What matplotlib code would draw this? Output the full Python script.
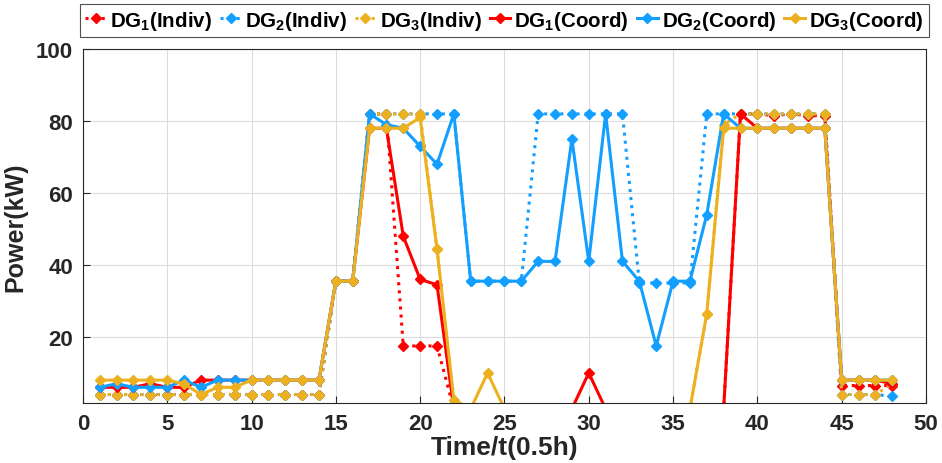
import numpy as np
import matplotlib
matplotlib.use("Agg")
import matplotlib.pyplot as plt

plt.rcParams["font.family"] = ["Liberation Sans", "DejaVu Sans"]
plt.rcParams["font.weight"] = "bold"
plt.rcParams["mathtext.fontset"] = "custom"
plt.rcParams["mathtext.bf"] = "Liberation Sans:bold"
plt.rcParams["mathtext.rm"] = "Liberation Sans:bold"
plt.rcParams["mathtext.default"] = "bf"

# time steps (0.5h each)
t = np.arange(1, 49)

dg1_indiv = ([4] * 14 + [35.5, 35.5] + [82, 82, 17.5, 17.5, 17.5, 0] + [0] * 16
             + [82, 82, 81.5, 82, 81.5, 81.5] + [6.5] * 4)
dg2_indiv = ([4] * 14 + [35.5, 35.5] + [82] * 6 + [35.5] * 4 + [82] * 6
             + [35] * 4 + [82] * 8 + [4, 4, 4, 3.5])
dg3_indiv = ([4] * 14 + [35.5, 35.5] + [82] * 4 + [44.5, 0] + [0] * 14
             + [26.5, 79] + [82] * 6 + [4, 4, 4, 7])

dg1_coord = ([6, 6, 6, 7, 6, 6, 8, 8, 8, 8, 8, 8, 8, 8] + [35.5, 35.5]
             + [78, 78, 48, 36, 34.5, 0] + [0] * 7 + [10] + [0] * 8
             + [82] + [78] * 5 + [8, 8, 8, 7])
dg2_coord = ([6, 7, 6, 6, 6, 8, 6, 8, 8, 8, 8, 8, 8, 8] + [35.5, 35.5]
             + [82, 79, 78, 73, 68, 82] + [35.5] * 4
             + [41, 41, 75, 41, 82, 41, 35.5, 17.5, 35.5, 35.5, 54, 82]
             + [78] * 6 + [8] * 4)
dg3_coord = ([8, 8, 8, 8, 8, 7, 4, 6, 6, 8, 8, 8, 8, 8] + [35.5, 35.5]
             + [78, 78, 78, 81, 44.5, 2.5, 0, 10, 0] + [0] * 11
             + [26.5, 78] + [78] * 6 + [8] * 4)

red = "#FF0000"
blue = "#129FFF"
yellow = "#EDB120"
dark = "#262626"

fig = plt.figure(figsize=(9.42, 4.64), dpi=100)
ax = fig.add_axes([0.088, 0.129, 0.895, 0.763])

series = [
    (dg1_indiv, red, ":", r"DG$_1$(Indiv)"),
    (dg2_indiv, blue, ":", r"DG$_2$(Indiv)"),
    (dg3_indiv, yellow, ":", r"DG$_3$(Indiv)"),
    (dg1_coord, red, "-", r"DG$_1$(Coord)"),
    (dg2_coord, blue, "-", r"DG$_2$(Coord)"),
    (dg3_coord, yellow, "-", r"DG$_3$(Coord)"),
]
for vals, c, ls, lab in series:
    ax.plot(t, vals, color=c, linestyle=ls, linewidth=2.2, marker="D",
            markersize=4.8, label=lab)

ax.set_xlim(0, 50)
ax.set_ylim(1.6, 100)
ax.set_xticks(np.arange(0, 51, 5))
ax.set_yticks(np.arange(20, 101, 20))
ax.grid(True, color="#dcdcdc", linewidth=0.8)
ax.set_axisbelow(True)
ax.tick_params(direction="in", labelsize=16, length=5, width=0.8, pad=7,
               colors=dark, labelcolor=dark)
for lab in ax.get_xticklabels() + ax.get_yticklabels():
    lab.set_fontweight("bold")
for s in ax.spines.values():
    s.set_color(dark)
    s.set_linewidth(0.8)
ax.set_xlabel("Time/t(0.5h)", fontsize=19, fontweight="bold", color=dark, labelpad=1)
ax.set_ylabel("Power(kW)", fontsize=18, fontweight="bold", color=dark, labelpad=6)

leg = ax.legend(loc="lower center", bbox_to_anchor=(0.5, 1.0), ncol=6,
                frameon=True, fancybox=False, handlelength=1.0, handletextpad=0.2,
                columnspacing=0.4, borderpad=0.25, borderaxespad=0.6,
                prop={"weight": "bold", "size": 14.8})
leg.get_frame().set_edgecolor(dark)
leg.get_frame().set_linewidth(0.8)

fig.savefig("out.png", dpi=100)
